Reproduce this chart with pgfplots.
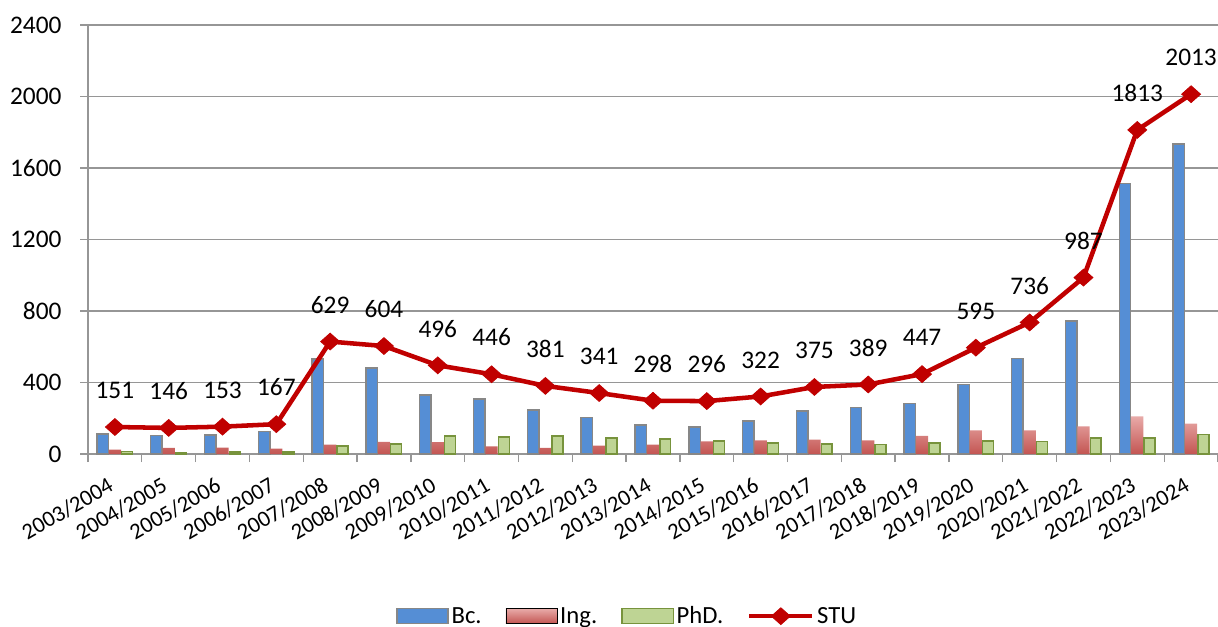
\documentclass[border=0pt]{standalone}
\usepackage{pgfplots}
\pgfplotsset{compat=1.18}
\usepackage{fontspec}
\setmainfont{Carlito}

\definecolor{bcblue}{RGB}{85,142,213}
\definecolor{barline}{RGB}{135,135,135}
\definecolor{inglight}{RGB}{232,170,168}
\definecolor{ingdark}{RGB}{195,85,82}
\definecolor{phdfill}{RGB}{190,212,148}
\definecolor{phdline}{RGB}{119,147,60}
\definecolor{stured}{RGB}{192,0,0}
\definecolor{gridgray}{RGB}{150,150,150}

\pgfplotsset{
    barleg/.style={legend image code/.code={\draw[##1] (0pt,-5.6pt) rectangle (38.5pt,5.6pt);}},
    lineleg/.style={legend image code/.code={\draw[##1, mark repeat=2, mark phase=2]
        plot coordinates {(0pt,0pt) (23.5pt,0pt) (47pt,0pt)};}},
}

\begin{document}
\begin{tikzpicture}[font=\fontsize{19}{23}\selectfont]
% page = 1218x626 px, 1 px = 0.75pt, plot area from (88,454) to (1218,25)
\useasboundingbox (-66pt,-129pt) rectangle (847.5pt,340.5pt);
\begin{axis}[
    at={(0,0)}, anchor=south west,
    scale only axis,
    width=847.5pt, height=321.75pt,
    xmin=-0.5, xmax=20.5,
    ymin=0, ymax=2400,
    axis x line*=bottom, axis y line*=left,
    axis line style={gridgray, line width=1pt},
    ytick={0,400,...,2400},
    ymajorgrids=true,
    grid style={gridgray, line width=1pt},
    xtick={0,...,20},
    xticklabels={2003/2004,2004/2005,2005/2006,2006/2007,2007/2008,2008/2009,2009/2010,
        2010/2011,2011/2012,2012/2013,2013/2014,2014/2015,2015/2016,2016/2017,
        2017/2018,2018/2019,2019/2020,2020/2021,2021/2022,2022/2023,2023/2024},
    minor xtick={-0.5,0.5,...,20.5},
    major x tick style={draw=none},
    minor x tick style={gridgray, line width=1pt},
    y tick style={gridgray, line width=1pt},
    tick align=outside,
    major tick length=6pt, minor tick length=6pt,
    yticklabel style={font=\fontsize{19}{23}\selectfont, anchor=east, inner sep=0pt},
    yticklabel shift=13.7pt,
    xticklabel style={font=\fontsize{17}{20}\selectfont, rotate=30,
        anchor=base east, inner sep=0pt},
    xticklabel shift=21pt,
    /pgf/number format/1000 sep={},
    /pgf/number format/assume math mode=true,
    legend columns=4,
    legend style={at={(0.4774,-0.378)}, anchor=center, draw=none, fill=none,
        font=\fontsize{18.5}{22}\selectfont,
        /tikz/every even column/.append style={column sep=16pt}},
]

\addplot[ybar, bar width=8.6pt, bar shift=-9.2pt, fill=bcblue, draw=barline, line width=1.1pt, barleg]
coordinates {
    (0,112) (1,105) (2,106) (3,125) (4,531) (5,480) (6,330) (7,308) (8,245) (9,205)
    (10,162) (11,152) (12,185) (13,240) (14,261) (15,284) (16,390) (17,535) (18,743)
    (19,1514) (20,1735)
};

\addplot[ybar, bar width=9.2pt, bar shift=0pt, draw=none, top color=inglight, bottom color=ingdark, barleg]
coordinates {
    (0,24) (1,34) (2,35) (3,30) (4,52) (5,68) (6,66) (7,42) (8,34) (9,47)
    (10,52) (11,70) (12,76) (13,80) (14,76) (15,102) (16,132) (17,132) (18,155)
    (19,210) (20,170)
};

\addplot[ybar, bar width=8.2pt, bar shift=9.2pt, fill=phdfill, draw=phdline, line width=1.1pt, barleg]
coordinates {
    (0,15) (1,7) (2,12) (3,12) (4,46) (5,56) (6,100) (7,96) (8,102) (9,89)
    (10,84) (11,74) (12,61) (13,55) (14,52) (15,61) (16,73) (17,69) (18,89)
    (19,89) (20,108)
};

\addplot[stured, line width=3.4pt, mark=diamond*,
    mark size=6.3pt, mark options={solid, xscale=1.5, line width=0.6pt, fill=stured, draw=stured},
    nodes near coords,
    nodes near coords style={text=black, anchor=south, inner sep=0pt, yshift=20.8pt,
        font=\fontsize{19}{23}\selectfont},
    lineleg]
coordinates {
    (0,151) (1,146) (2,153) (3,167) (4,629) (5,604) (6,496) (7,446) (8,381) (9,341)
    (10,298) (11,296) (12,322) (13,375) (14,389) (15,447) (16,595) (17,736) (18,987)
    (19,1813) (20,2013)
};

\legend{Bc., Ing., PhD., STU}
\end{axis}
\end{tikzpicture}
\end{document}
